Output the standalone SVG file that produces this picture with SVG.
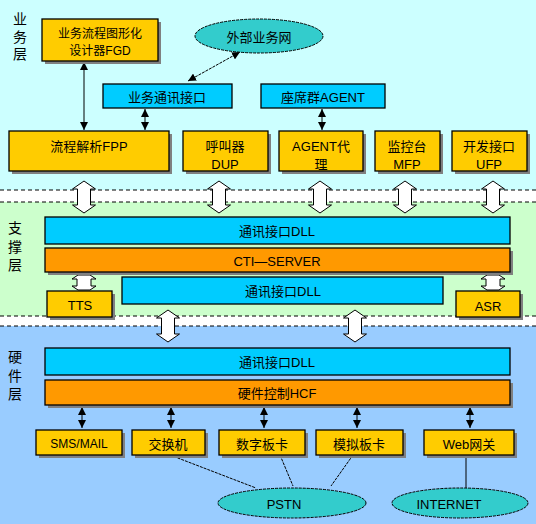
<svg xmlns="http://www.w3.org/2000/svg" xmlns:xlink="http://www.w3.org/1999/xlink" width="536" height="524" viewBox="0 0 536 524">
<style>
text{font-family:"Liberation Sans","Noto Sans CJK SC",sans-serif;font-size:13px;fill:#000;text-anchor:middle;dominant-baseline:central}
.lbl{font-size:14px}
.sm{font-size:12px}
.box{stroke:#000;stroke-width:1.3}
.gold{fill:#FFCC00}
.cyan{fill:#00CCFF}
.orange{fill:#FF9900}
.ell{fill:#33CCCC;stroke:#000;stroke-width:1;stroke-dasharray:3 1}
.sh{fill:#808080}
.dash{stroke:#000;stroke-width:1;stroke-dasharray:4 3;fill:none}
.ln{stroke:#000;stroke-width:1;fill:none}
.dl{stroke:#000;stroke-width:1;fill:none;stroke-dasharray:3 1}
.blk{fill:#fff;stroke:#000;stroke-width:1}
</style>
<defs>
<marker id="tri" viewBox="0 0 10 10" refX="10" refY="5" markerWidth="8" markerHeight="8" markerUnits="userSpaceOnUse" orient="auto-start-reverse">
<path d="M0,0 L10,5 L0,10 Z" fill="#000"/>
</marker>
<path id="barrow" d="M0,0 L11.5,8 L6.5,8 L6.5,24 L11.5,24 L0,32 L-11.5,24 L-6.5,24 L-6.5,8 L-11.5,8 Z"/>
<path id="sarrow" d="M-6,0 L6,0 L12,4 L7,4 L7,11 L12,11 L6,15 L-6,15 L-12,11 L-7,11 L-7,4 L-12,4 Z"/>
</defs>

<g id="backgrounds">
<rect x="0" y="0" width="536" height="190" fill="#CCFFFF"/>
<rect x="0" y="190" width="536" height="12" fill="#FFFFFF"/>
<rect x="0" y="202" width="536" height="114" fill="#CCFFCC"/>
<rect x="0" y="316" width="536" height="10" fill="#FFFFFF"/>
<rect x="0" y="326" width="536" height="198" fill="#99CCFF"/>
<line class="dash" x1="0" y1="190" x2="536" y2="190"/>
<line class="dash" x1="0" y1="202" x2="536" y2="202"/>
<line class="dash" x1="0" y1="316" x2="536" y2="316"/>
<line class="dash" x1="0" y1="326" x2="536" y2="326"/>
</g>

<g id="layer-labels">
<text class="lbl" x="20" y="19">业</text>
<text class="lbl" x="20" y="37">务</text>
<text class="lbl" x="20" y="54">层</text>
<text class="lbl" x="15" y="228">支</text>
<text class="lbl" x="15" y="247">撑</text>
<text class="lbl" x="15" y="265">层</text>
<text class="lbl" x="15" y="357">硬</text>
<text class="lbl" x="15" y="376">件</text>
<text class="lbl" x="15" y="394">层</text>
</g>

<g id="connectors">
<line class="ln" x1="84" y1="62" x2="84" y2="130" marker-start="url(#tri)" marker-end="url(#tri)"/>
<line class="dl" x1="188" y1="81" x2="240" y2="52" marker-start="url(#tri)" marker-end="url(#tri)"/>
<line class="ln" x1="145" y1="109" x2="145" y2="130" marker-start="url(#tri)" marker-end="url(#tri)"/>
<line class="ln" x1="322" y1="109" x2="322" y2="130" marker-start="url(#tri)" marker-end="url(#tri)"/>
<use href="#barrow" class="blk" x="84" y="181"/>
<use href="#barrow" class="blk" x="219" y="181"/>
<use href="#barrow" class="blk" x="320" y="181"/>
<use href="#barrow" class="blk" x="405" y="181"/>
<use href="#barrow" class="blk" x="493" y="181"/>
<use href="#sarrow" class="blk" x="84" y="275"/>
<use href="#sarrow" class="blk" x="493" y="275"/>
<use href="#barrow" class="blk" x="168" y="310"/>
<use href="#barrow" class="blk" x="355" y="310"/>
<line class="ln" x1="82" y1="407" x2="82" y2="428" marker-start="url(#tri)" marker-end="url(#tri)"/>
<line class="ln" x1="171" y1="407" x2="171" y2="428" marker-start="url(#tri)" marker-end="url(#tri)"/>
<line class="ln" x1="264" y1="407" x2="264" y2="428" marker-start="url(#tri)" marker-end="url(#tri)"/>
<line class="ln" x1="357" y1="407" x2="357" y2="428" marker-start="url(#tri)" marker-end="url(#tri)"/>
<line class="ln" x1="470" y1="407" x2="470" y2="428" marker-start="url(#tri)" marker-end="url(#tri)"/>
<line class="dl" x1="170" y1="455" x2="256" y2="488"/>
<line class="dl" x1="280" y1="455" x2="293" y2="486"/>
<line class="dl" x1="353" y1="455" x2="331" y2="486"/>
<line class="ln" x1="466" y1="455" x2="466" y2="488"/>
</g>

<g id="fgd">
<rect class="sh" x="45" y="22" width="116" height="42"/>
<rect class="box gold" x="42" y="19" width="116" height="42"/>
<text class="sm" x="100" y="34">业务流程图形化</text>
<text class="sm" x="100" y="51">设计器FGD</text>
</g>
<g id="external-net">
<ellipse class="ell" cx="259" cy="36" rx="64" ry="17"/>
<text x="259" y="37">外部业务网</text>
</g>
<g id="biz-comm">
<rect class="box cyan" x="103" y="84" width="129" height="24"/>
<text x="167" y="97">业务通讯接口</text>
</g>
<g id="agent-group">
<rect class="box cyan" x="261" y="84" width="124" height="24"/>
<text x="323" y="97">座席群AGENT</text>
</g>
<g id="fpp">
<rect class="sh" x="12" y="134" width="160" height="40"/>
<rect class="box gold" x="9" y="131" width="160" height="40"/>
<text x="89" y="146">流程解析FPP</text>
</g>
<g id="dup">
<rect class="sh" x="186" y="134" width="85" height="40"/>
<rect class="box gold" x="183" y="131" width="85" height="40"/>
<text x="225" y="146">呼叫器</text>
<text x="225" y="164">DUP</text>
</g>
<g id="agent-proxy">
<rect class="sh" x="282" y="134" width="84" height="40"/>
<rect class="box gold" x="279" y="131" width="84" height="40"/>
<text x="321" y="146">AGENT代</text>
<text x="321" y="164">理</text>
</g>
<g id="mfp">
<rect class="sh" x="378" y="134" width="65" height="40"/>
<rect class="box gold" x="375" y="131" width="65" height="40"/>
<text x="407" y="146">监控台</text>
<text x="407" y="164">MFP</text>
</g>
<g id="ufp">
<rect class="sh" x="455" y="134" width="75" height="40"/>
<rect class="box gold" x="452" y="131" width="75" height="40"/>
<text x="489" y="146">开发接口</text>
<text x="489" y="164">UFP</text>
</g>

<g id="dll-support">
<rect class="box cyan" x="45" y="217" width="465" height="27"/>
<text x="277" y="231">通讯接口DLL</text>
</g>
<g id="cti-server">
<rect class="sh" x="48" y="251" width="465" height="24"/>
<rect class="box orange" x="45" y="248" width="465" height="24"/>
<text x="277" y="261">CTI—SERVER</text>
</g>
<g id="tts">
<rect class="sh" x="50" y="294" width="65" height="26"/>
<rect class="box gold" x="47" y="291" width="65" height="26"/>
<text x="80" y="305">TTS</text>
</g>
<g id="dll-support-2">
<rect class="box cyan" x="122" y="277" width="321" height="27"/>
<text x="283" y="291">通讯接口DLL</text>
</g>
<g id="asr">
<rect class="sh" x="459" y="294" width="64" height="26"/>
<rect class="box gold" x="456" y="291" width="64" height="26"/>
<text x="488" y="306">ASR</text>
</g>

<g id="dll-hw">
<rect class="box cyan" x="45" y="348" width="465" height="27"/>
<text x="277" y="362">通讯接口DLL</text>
</g>
<g id="hcf">
<rect class="sh" x="48" y="383" width="465" height="25"/>
<rect class="box orange" x="45" y="380" width="465" height="25"/>
<text x="277" y="393">硬件控制HCF</text>
</g>
<g id="sms-mail">
<rect class="sh" x="39" y="433" width="86" height="25"/>
<rect class="box gold" x="36" y="430" width="86" height="25"/>
<text class="sm" x="79" y="444">SMS/MAIL</text>
</g>
<g id="switch">
<rect class="sh" x="135" y="433" width="73" height="25"/>
<rect class="box gold" x="132" y="430" width="73" height="25"/>
<text x="168" y="444">交换机</text>
</g>
<g id="digital-card">
<rect class="sh" x="222" y="433" width="86" height="25"/>
<rect class="box gold" x="219" y="430" width="86" height="25"/>
<text x="262" y="444">数字板卡</text>
</g>
<g id="analog-card">
<rect class="sh" x="319" y="433" width="87" height="25"/>
<rect class="box gold" x="316" y="430" width="87" height="25"/>
<text x="359" y="444">模拟板卡</text>
</g>
<g id="web-gateway">
<rect class="sh" x="427" y="433" width="90" height="25"/>
<rect class="box gold" x="424" y="430" width="90" height="25"/>
<text x="469" y="444">Web网关</text>
</g>
<g id="pstn">
<ellipse class="ell" cx="292" cy="503" rx="74" ry="15"/>
<text x="284" y="504">PSTN</text>
</g>
<g id="internet">
<ellipse class="ell" cx="460" cy="503" rx="68" ry="15"/>
<text x="449" y="504">INTERNET</text>
</g>
</svg>
